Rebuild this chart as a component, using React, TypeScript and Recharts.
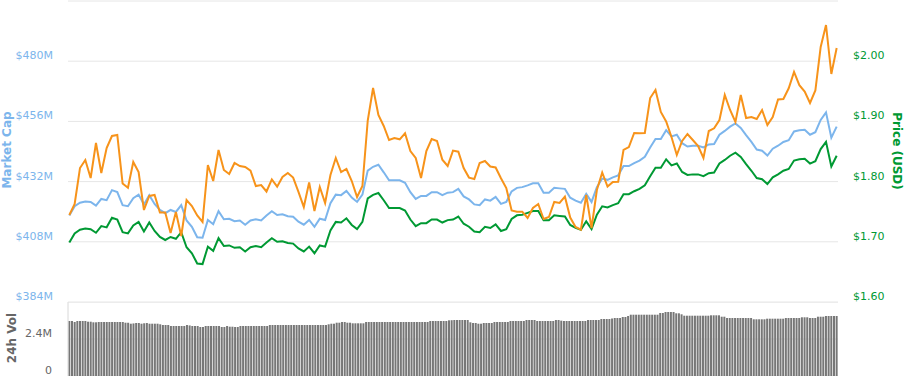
import React from 'react';
import { ComposedChart, Line, Bar, XAxis, YAxis, CartesianGrid } from 'recharts';

// 24h of 5-minute data.
// Lines are sampled every other step (10 min), the volume bars every step.

// Market cap, millions USD
const marketCap = [
  418.5, 422.2, 423.6, 424.1, 423.9, 422.4, 425.1, 424.6, 428.6, 427.8,
  422.6, 422.2, 425.4, 426.8, 422.9, 426.6, 423.1, 420.7, 419.4, 420.7,
  419.9, 422.6, 416.5, 414.0, 409.8, 409.6, 416.7, 415.0, 420.2, 417.0,
  417.2, 416.2, 416.5, 414.8, 416.5, 417.0, 416.5, 418.5, 420.2, 418.7,
  419.0, 418.2, 418.0, 416.0, 414.8, 416.7, 414.0, 417.2, 416.7, 423.4,
  426.8, 426.6, 428.3, 425.6, 423.9, 426.8, 436.4, 437.9, 438.7, 435.7,
  432.5, 432.5, 432.5, 431.5, 427.8, 425.1, 426.3, 426.3, 427.8, 427.8,
  426.6, 427.6, 427.8, 429.1, 426.1, 424.9, 422.9, 422.6, 424.9, 424.4,
  425.9, 423.1, 423.9, 428.1, 429.5, 429.8, 430.5, 431.3, 431.3, 427.6,
  427.6, 429.5, 429.3, 429.1, 425.6, 424.4, 423.6, 427.1, 423.9, 429.8,
  433.2, 432.7, 433.7, 434.5, 438.2, 438.2, 439.4, 440.4, 441.9, 445.6,
  449.0, 449.0, 452.5, 450.0, 450.7, 447.3, 446.0, 446.3, 446.3, 445.6,
  446.8, 447.0, 450.7, 452.2, 453.9, 455.2, 453.4, 450.5, 447.8, 444.8,
  444.3, 442.4, 445.1, 446.3, 447.8, 448.5, 452.0, 452.5, 452.7, 450.7,
  451.7, 456.6, 459.6, 449.5, 453.9,
];

// Price, USD
const priceUsd = [
  1.699, 1.714, 1.72, 1.722, 1.721, 1.715, 1.726, 1.724, 1.74, 1.737,
  1.716, 1.714, 1.727, 1.733, 1.717, 1.732, 1.718, 1.708, 1.703, 1.708,
  1.705, 1.716, 1.691, 1.681, 1.664, 1.663, 1.692, 1.685, 1.706, 1.693,
  1.694, 1.69, 1.691, 1.684, 1.691, 1.693, 1.691, 1.699, 1.706, 1.7,
  1.701, 1.698, 1.697, 1.689, 1.684, 1.692, 1.681, 1.694, 1.692, 1.719,
  1.733, 1.732, 1.739, 1.728, 1.721, 1.733, 1.772, 1.778, 1.781, 1.769,
  1.756, 1.756, 1.756, 1.752, 1.737, 1.726, 1.731, 1.731, 1.737, 1.737,
  1.732, 1.736, 1.737, 1.742, 1.73, 1.725, 1.717, 1.716, 1.725, 1.723,
  1.729, 1.718, 1.721, 1.738, 1.744, 1.745, 1.748, 1.751, 1.751, 1.736,
  1.736, 1.744, 1.743, 1.742, 1.728, 1.723, 1.72, 1.734, 1.721, 1.745,
  1.759, 1.757, 1.761, 1.764, 1.779, 1.779, 1.784, 1.788, 1.794, 1.809,
  1.823, 1.823, 1.837, 1.827, 1.83, 1.816, 1.811, 1.812, 1.812, 1.809,
  1.814, 1.815, 1.83, 1.836, 1.843, 1.848, 1.841, 1.829, 1.818, 1.806,
  1.804, 1.796, 1.807, 1.812, 1.818, 1.821, 1.835, 1.837, 1.838, 1.83,
  1.834, 1.854, 1.866, 1.825, 1.843,
];

// Price, BTC (satoshi) — no axis of its own in the reference
const priceSat = [
  20870, 20980, 21340, 21420, 21240, 21590, 21290, 21540, 21660, 21670,
  21185, 21143, 21400, 21300, 20920, 21060, 21070, 20895, 20895, 20690,
  20900, 20660, 21020, 20960, 20865, 20800, 21370, 21210, 21520, 21320,
  21280, 21390, 21360, 21350, 21314, 21160, 21170, 21105, 21226, 21153,
  21250, 21290, 21244, 21101, 20950, 21195, 20910, 21150, 20990, 21270,
  21440, 21300, 21330, 21210, 21050, 21160, 21815, 22140, 21870, 21760,
  21620, 21640, 21627, 21687, 21510, 21440, 21240, 21510, 21630, 21610,
  21423, 21360, 21514, 21503, 21340, 21244, 21230, 21390, 21410, 21355,
  21345, 21237, 21140, 20915, 20903, 20903, 20840, 20940, 20980, 20830,
  20850, 21000, 20990, 21053, 20845, 20750, 20723, 21070, 20740, 21120,
  21295, 21154, 21200, 21203, 21520, 21550, 21690, 21687, 21690, 22040,
  22120, 21900, 21805, 21650, 21470, 21610, 21680, 21620, 21560, 21440,
  21710, 21737, 21820, 22070, 21920, 21800, 22070, 21840, 21850, 21830,
  21920, 21770, 21850, 22025, 22030, 22137, 22300, 22168, 22105, 21990,
  22115, 22550, 22770, 22280, 22540,
];

// 24h volume, thousands USD
const volumeK = [
  3568, 3568, 3503, 3568, 3568, 3568, 3568, 3522, 3522, 3483, 3483, 3503,
  3503, 3503, 3503, 3503, 3503, 3503, 3503, 3503, 3503, 3457, 3457, 3392,
  3410, 3438, 3438, 3392, 3420, 3438, 3392, 3392, 3392, 3392, 3354, 3308,
  3308, 3308, 3243, 3243, 3243, 3243, 3243, 3243, 3308, 3280, 3243, 3243,
  3243, 3178, 3178, 3243, 3243, 3243, 3243, 3243, 3243, 3178, 3178, 3243,
  3198, 3198, 3178, 3178, 3243, 3243, 3243, 3243, 3243, 3243, 3243, 3243,
  3243, 3243, 3243, 3308, 3308, 3308, 3308, 3308, 3308, 3308, 3308, 3308,
  3308, 3308, 3308, 3308, 3308, 3308, 3308, 3308, 3308, 3308, 3308, 3308,
  3308, 3354, 3392, 3392, 3457, 3457, 3503, 3503, 3457, 3457, 3418, 3418,
  3418, 3418, 3418, 3503, 3503, 3503, 3503, 3503, 3503, 3503, 3503, 3503,
  3503, 3503, 3503, 3503, 3503, 3503, 3503, 3503, 3503, 3503, 3503, 3503,
  3503, 3503, 3503, 3568, 3568, 3568, 3568, 3568, 3568, 3568, 3613, 3620,
  3632, 3632, 3632, 3632, 3632, 3632, 3483, 3438, 3438, 3392, 3392, 3438,
  3438, 3438, 3438, 3503, 3503, 3503, 3503, 3503, 3503, 3568, 3568, 3568,
  3568, 3568, 3568, 3632, 3632, 3632, 3632, 3568, 3568, 3568, 3568, 3568,
  3568, 3568, 3632, 3632, 3590, 3568, 3568, 3568, 3568, 3568, 3568, 3568,
  3568, 3568, 3632, 3632, 3632, 3632, 3632, 3697, 3697, 3697, 3697, 3730,
  3762, 3762, 3762, 3827, 3827, 3892, 3976, 3976, 3976, 3976, 3976, 3976,
  3976, 3976, 3976, 3976, 3976, 4086, 4086, 4151, 4151, 4151, 4151, 4067,
  4067, 4002, 3911, 3911, 3911, 3911, 3911, 3911, 3911, 3911, 3911, 3911,
  3937, 3937, 3937, 3937, 3846, 3846, 3762, 3762, 3762, 3762, 3762, 3762,
  3762, 3762, 3762, 3762, 3678, 3678, 3678, 3678, 3678, 3717, 3717, 3717,
  3717, 3717, 3717, 3717, 3762, 3762, 3762, 3762, 3762, 3762, 3808, 3808,
  3808, 3762, 3762, 3762, 3846, 3846, 3846, 3892, 3892, 3892, 3892, 3892,
];

const capTicks = [384, 408, 432, 456, 480, 504];
const usdTicks = [1.6, 1.7, 1.8, 1.9, 2.0, 2.1];
const volTicks = [0, 2400, 4800];

const BLUE = '#7cb5ec';
const GREEN = '#009933';
const ORANGE = '#f7931a';
const FONT = '"DejaVu Sans", Verdana, sans-serif';

const lineRows = priceUsd.map((p, i) => ({ i, usd: p, cap: marketCap[i], sat: priceSat[i] }));
const volRows = volumeK.map((v, i) => ({ i, v }));

// labels sit a few px above their grid line, like the original
function CapTick({ y, payload }: any) {
  if (payload.value === 504) return <g />;
  return (
    <text x={53} y={y - 2} textAnchor="end" fill={BLUE} fontSize={11} fontFamily={FONT}>
      {'$' + payload.value + 'M'}
    </text>
  );
}

function UsdTick({ y, payload }: any) {
  if (payload.value > 2.05) return <g />;
  return (
    <text x={853} y={y - 2} textAnchor="start" fill={GREEN} fontSize={11} fontFamily={FONT}>
      {'$' + Number(payload.value).toFixed(2)}
    </text>
  );
}

function VolTick({ y, payload }: any) {
  if (payload.value === 4800) return <g />;
  return (
    <text x={52} y={y - 2} textAnchor="end" fill="#666" fontSize={11} fontFamily={FONT}>
      {payload.value === 0 ? '0' : payload.value / 1000 + 'M'}
    </text>
  );
}

export default function App() {
  return (
    <div style={{ position: 'absolute', left: 0, top: 0, width: 906, height: 376, background: '#fff', overflow: 'hidden' }}>
      {/* volume panel */}
      <div style={{ position: 'absolute', left: 0, top: 302 }}>
        <ComposedChart width={906} height={74} data={volRows} margin={{ top: 0, right: 68, bottom: 0, left: 0 }} barCategoryGap="12%">
          <CartesianGrid vertical={false} stroke="#e6e6e6" />
          <XAxis dataKey="i" hide />
          <YAxis
            width={68}
            domain={[0, 4800]}
            ticks={volTicks}
            interval={0}
            axisLine={{ stroke: '#d8d8d8' }}
            tickLine={false}
            tick={(p: any) => <VolTick {...p} />}
          />
          <Bar dataKey="v" fill="#777777" isAnimationActive={false} />
        </ComposedChart>
      </div>

      {/* price / market cap panel */}
      <div style={{ position: 'absolute', left: 0, top: 0 }}>
        <ComposedChart width={906} height={303} data={lineRows} margin={{ top: 1, right: 0, bottom: 1, left: 0 }}>
          <CartesianGrid yAxisId="cap" vertical={false} stroke="#e6e6e6" />
          <XAxis dataKey="i" type="number" domain={[-0.25, 144.25]} hide />
          <YAxis
            yAxisId="cap"
            orientation="left"
            width={68}
            domain={[384, 504]}
            ticks={capTicks}
            interval={0}
            axisLine={false}
            tickLine={false}
            tick={(p: any) => <CapTick {...p} />}
          />
          <YAxis
            yAxisId="usd"
            orientation="right"
            width={68}
            domain={[1.6, 2.1]}
            ticks={usdTicks}
            interval={0}
            axisLine={false}
            tickLine={false}
            tick={(p: any) => <UsdTick {...p} />}
          />
          <YAxis yAxisId="sat" hide domain={[20000, 23010]} />
          <Line yAxisId="cap" dataKey="cap" stroke={BLUE} strokeWidth={2} dot={false} isAnimationActive={false} />
          <Line yAxisId="usd" dataKey="usd" stroke={GREEN} strokeWidth={2} dot={false} isAnimationActive={false} />
          <Line yAxisId="sat" dataKey="sat" stroke={ORANGE} strokeWidth={2} dot={false} isAnimationActive={false} />
        </ComposedChart>
      </div>

      {/* axis titles */}
      <svg width={906} height={376} style={{ position: 'absolute', left: 0, top: 0, pointerEvents: 'none' }}>
        <text transform="translate(11,150) rotate(-90)" textAnchor="middle" fill={BLUE} fontSize={12} fontWeight="bold" fontFamily={FONT}>
          Market Cap
        </text>
        <text transform="translate(16,338) rotate(-90)" textAnchor="middle" fill="#666" fontSize={12} fontWeight="bold" fontFamily={FONT}>
          24h Vol
        </text>
        <text transform="translate(893,151) rotate(90)" textAnchor="middle" fill={GREEN} fontSize={12} fontWeight="bold" fontFamily={FONT}>
          Price (USD)
        </text>
      </svg>
    </div>
  );
}
